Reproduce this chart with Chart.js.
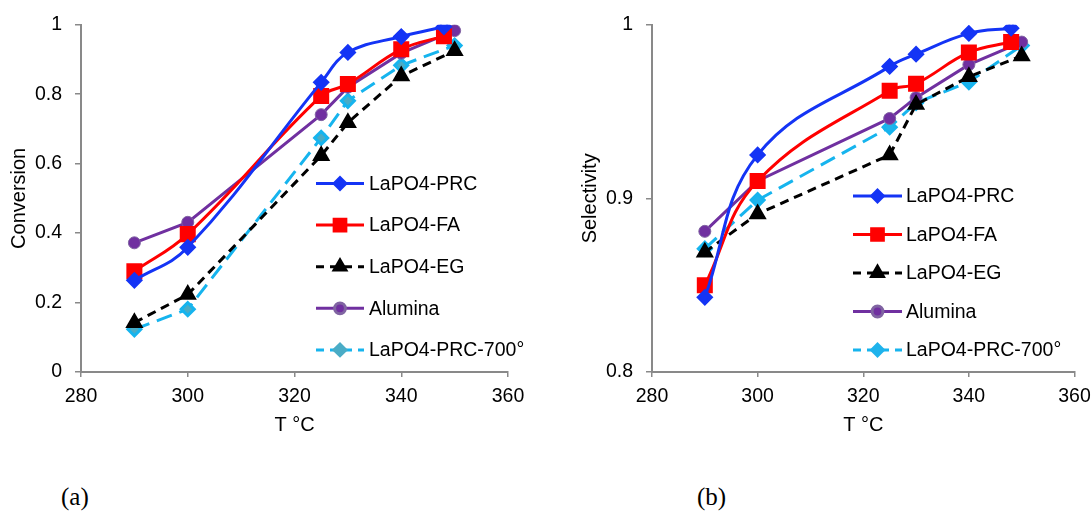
<!DOCTYPE html>
<html>
<head>
<meta charset="utf-8">
<script src="https://cdn.jsdelivr.net/npm/chart.js@4/dist/chart.umd.min.js"></script>
<style>
  html, body { margin: 0; padding: 0; background: #fff; overflow: hidden; }
  body { width: 1091px; height: 514px; position: relative; }
  canvas { position: absolute; top: 0; }
  #convChart { left: 0px; }
  #selChart { left: 560px; }
  .cap { position: absolute; top: 483px; font-family: "Liberation Serif", serif; font-size: 25px; color: #000; }
</style>
</head>
<body>
<canvas id="convChart" width="545" height="450"></canvas>
<canvas id="selChart" width="545" height="450"></canvas>
<div class="cap" style="left:61px">(a)</div>
<div class="cap" style="left:697px">(b)</div>
<script>
// temperatures (°C)
let tempsShort = [290, 300, 325, 330, 340, 348];
let tempsLong = [290, 300, 325, 330, 340, 350];

let seriesNames = ["LaPO4-PRC", "LaPO4-FA", "LaPO4-EG", "Alumina", "LaPO4-PRC-700°"];

// conversion
let convPRC = [0.264, 0.359, 0.834, 0.92, 0.966, 0.994];
let convFA = [0.29, 0.397, 0.795, 0.829, 0.929, 0.967];
let convEG = [0.142, 0.223, 0.623, 0.718, 0.852, 0.925];
let convAlumina = [0.372, 0.431, 0.741, 0.82, 0.918, 0.983];
let conv700 = [0.123, 0.181, 0.674, 0.781, 0.883, 0.94];

// selectivity
let selPRC = [0.843, 0.925, 0.976, 0.983, 0.995, 0.998];
let selFA = [0.850, 0.910, 0.962, 0.966, 0.984, 0.990];
let selEG = [0.869, 0.891, 0.925, 0.954, 0.970, 0.982];
let selAlumina = [0.881, 0.910, 0.946, 0.958, 0.977, 0.990];
let sel700 = [0.871, 0.899, 0.941, 0.955, 0.967, 0.988];

let xTicks = [280, 300, 320, 340, 360];
let convTicks = [0, 0.2, 0.4, 0.6, 0.8, 1];
let selTicks = [0.8, 0.9, 1];

const FONT = "'Liberation Sans', Arial, sans-serif";
const AXIS = "#898989";

function pts(xs, ys) {
    return xs.map((x, i) => ({ x: x, y: ys[i] }));
}

function makeDatasets(vals, cyanMarker) {
    return [
        { label: seriesNames[0], data: pts(tempsShort, vals[0]), borderColor: "#1434f5", backgroundColor: "#1434f5",
          borderWidth: 3, pointStyle: "rectRot", pointRadius: 6.5, tension: 0.4 },
        { label: seriesNames[1], data: pts(tempsShort, vals[1]), borderColor: "#ff0000", backgroundColor: "#ff0000",
          borderWidth: 3, pointStyle: "rect", pointRadius: 9.2, tension: 0.4 },
        { label: seriesNames[2], data: pts(tempsLong, vals[2]), borderColor: "#000000", backgroundColor: "#000000",
          borderWidth: 3, borderDash: [9, 6], pointStyle: "triangle", pointRadius: 7.5, tension: 0 },
        { label: seriesNames[3], data: pts(tempsLong, vals[3]), borderColor: "#7030a0", backgroundColor: "#7030a0",
          pointBorderColor: "#8064a2", pointBorderWidth: 1, borderWidth: 3, pointStyle: "circle", pointRadius: 6, tension: 0 },
        { label: seriesNames[4], data: pts(tempsLong, vals[4]), borderColor: "#16b4ee", backgroundColor: cyanMarker,
          borderWidth: 3, borderDash: [16, 8], pointStyle: "rectRot", pointRadius: 6.5, tension: 0 },
    ];
}

// legend drawn inside the plot
const boxLegend = {
    id: "boxLegend",
    afterDraw(chart, args, opts) {
        const ctx = chart.ctx;
        ctx.save();
        chart.data.datasets.forEach((ds, i) => {
            const y = opts.y0 + i * opts.dy;
            ctx.strokeStyle = ds.borderColor;
            ctx.lineWidth = ds.borderWidth;
            ctx.setLineDash(ds.borderDash ? [8, 6] : []);
            ctx.beginPath();
            ctx.moveTo(opts.x0, y);
            ctx.lineTo(opts.x1, y);
            ctx.stroke();
            ctx.setLineDash([]);
            ctx.fillStyle = ds.backgroundColor;
            ctx.strokeStyle = ds.pointBorderColor || ds.backgroundColor;
            Chart.helpers.drawPoint(ctx, { pointStyle: ds.pointStyle, radius: ds.pointRadius * 0.9, rotation: 0, borderWidth: 1 },
                (opts.x0 + opts.x1) / 2, y);
            ctx.fillStyle = "#000";
            ctx.font = "19.5px " + FONT;
            ctx.textAlign = "left";
            ctx.textBaseline = "middle";
            ctx.fillText(ds.label, opts.tx, y + 1);
        });
        ctx.restore();
    }
};

function makeChart(id, datasets, yMin, yMax, yStep, yTicks, yTitle, geo) {
    return new Chart(document.getElementById(id).getContext("2d"), {
        type: "line",
        data: { datasets: datasets },
        plugins: [boxLegend],
        options: {
            responsive: false,
            animation: false,
            layout: { padding: { left: 0, top: geo.top, right: geo.right, bottom: 0 } },
            plugins: {
                legend: { display: false },
                tooltip: { enabled: false },
                boxLegend: geo.legend,
            },
            elements: { point: { borderWidth: 0 } },
            scales: {
                x: {
                    type: "linear", min: xTicks[0], max: xTicks[xTicks.length - 1],
                    afterBuildTicks: (s) => { s.ticks = xTicks.map(v => ({ value: v })); },
                    afterFit: (s) => { s.height = 450 - geo.bottom; },
                    grid: { drawOnChartArea: false, drawTicks: true, tickLength: 5, color: AXIS, lineWidth: 1.5 },
                    border: { color: AXIS, width: 2 },
                    ticks: { color: "#000", padding: 8, font: { family: FONT, size: 19.5 } },
                    title: { display: true, text: "T °C", color: "#000", padding: { top: 0, bottom: 13 }, font: { family: FONT, size: 20 } },
                },
                y: {
                    type: "linear", min: yMin, max: yMax,
                    afterBuildTicks: (s) => { s.ticks = yTicks.map(v => ({ value: v })); },
                    afterFit: (s) => { s.width = geo.left; },
                    grid: { drawOnChartArea: false, drawTicks: true, tickLength: 6, color: AXIS, lineWidth: 1.5 },
                    border: { color: AXIS, width: 2 },
                    ticks: { color: "#000", padding: 13, font: { family: FONT, size: 19.5 }, callback: (v) => String(+v.toFixed(2)) },
                    title: { display: true, text: yTitle, color: "#000", padding: { top: geo.titlePad, bottom: 0 }, font: { family: FONT, size: 20 } },
                },
            },
        },
    });
}

makeChart("convChart", makeDatasets([convPRC, convFA, convEG, convAlumina, conv700], "#4aacc6"),
    0, 1, 0.2, convTicks, "Conversion",
    { left: 81, top: 23, right: 37, bottom: 372, titlePad: 7,
      legend: { x0: 316, x1: 364, tx: 369, y0: 183.5, dy: 41.6 } });

makeChart("selChart", makeDatasets([selPRC, selFA, selEG, selAlumina, sel700], "#1fb3ec"),
    0.8, 1, 0.1, selTicks, "Selectivity",
    { left: 92, top: 22, right: 30.5, bottom: 372, titlePad: 18,
      legend: { x0: 293, x1: 342, tx: 346, y0: 196, dy: 38.5 } });
</script>
</body>
</html>
